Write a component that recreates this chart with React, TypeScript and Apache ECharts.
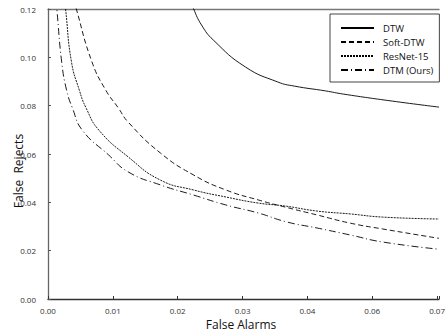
import React, { useEffect, useRef } from "react";
import * as echarts from "echarts";

const xTickLabels = ["0.00", "0.01", "0.02", "0.03", "0.04", "0.06", "0.07"];
const seriesNames = ["DTW", "Soft-DTW", "ResNet-15", "DTM (Ours)"];

const dtw: [number, number][] = [
  [0.0220, 0.1237], [0.02246, 0.12], [0.02367, 0.1134], [0.02548, 0.1072],
  [0.03045, 0.096], [0.03543, 0.0898], [0.03799, 0.0881], [0.04282, 0.0861],
  [0.04553, 0.0848], [0.05307, 0.0819], [0.0603, 0.0794],
];
const softDtw: [number, number][] = [
  [0.00407, 0.1237], [0.00437, 0.12], [0.00678, 0.0981], [0.00889, 0.0865],
  [0.01086, 0.079], [0.01236, 0.0732], [0.01734, 0.0604], [0.02246, 0.0513],
  [0.02744, 0.0451], [0.03241, 0.041], [0.03648, 0.0381], [0.04146, 0.0348],
  [0.04659, 0.0314], [0.05156, 0.029], [0.0603, 0.0251],
];
const resNet: [number, number][] = [
  [0.00256, 0.1237], [0.00271, 0.12], [0.00362, 0.0981], [0.00482, 0.0865],
  [0.00588, 0.079], [0.00784, 0.0699], [0.01236, 0.0588], [0.01734, 0.0492],
  [0.02246, 0.0451], [0.02744, 0.0422], [0.03241, 0.0397], [0.03648, 0.0385],
  [0.04146, 0.0364], [0.04659, 0.0352], [0.05156, 0.0339], [0.0603, 0.0331],
];
const dtm: [number, number][] = [
  [0.00121, 0.1237], [0.00136, 0.12], [0.00211, 0.0981], [0.00286, 0.0865],
  [0.00377, 0.079], [0.00528, 0.0699], [0.00935, 0.0596], [0.01236, 0.0526],
  [0.01734, 0.0472], [0.02246, 0.043], [0.02744, 0.0389], [0.03241, 0.0356],
  [0.03679, 0.0319], [0.04146, 0.0294], [0.04659, 0.0265], [0.05156, 0.0236],
  [0.0603, 0.0206],
];

const FONT = "'Open Sans', 'Noto Sans', sans-serif";

export default function App() {
  const ref = useRef<HTMLDivElement>(null);
  useEffect(() => {
    document.body.style.margin = "0";
    if (!ref.current) return;
    const chart = echarts.init(ref.current, null, { renderer: "svg" });
    const dashes: any[] = ["solid", [5, 3], [2, 1], [7, 3, 1, 3]];
    const datas = [dtw, softDtw, resNet, dtm];
    chart.setOption({
      animation: false,
      backgroundColor: "#fff",
      grid: { left: 48, right: 0, top: 9, bottom: 35 },
      legend: {
        orient: "vertical",
        left: 330,
        top: 14,
        padding: [9, 6, 7, 10],
        itemGap: 4,
        itemWidth: 33,
        itemHeight: 10,
        borderColor: "#444",
        borderWidth: 1,
        backgroundColor: "#fff",
        itemStyle: { opacity: 0 },
        textStyle: { fontFamily: FONT, fontSize: 9.5, color: "#111", padding: [0, 0, 0, 4] },
        data: seriesNames,
      },
      xAxis: [
        {
          type: "value",
          min: 0,
          max: 0.0603,
          interval: 0.01,
          splitLine: { show: false },
          axisLine: { lineStyle: { color: "#333", width: 1.3 } },
          axisTick: { inside: true, length: 3, lineStyle: { color: "#333" } },
          axisLabel: {
            margin: 7,
            fontFamily: FONT,
            fontSize: 8,
            color: "#333",
            formatter: (v: number) => {
              const i = Math.round(v / 0.01);
              if (Math.abs(v / 0.01 - i) > 1e-6) return "";
              return xTickLabels[i] ?? "";
            },
          },
        },
        {
          type: "value",
          position: "top",
          min: 0,
          max: 0.0603,
          splitLine: { show: false },
          axisLine: { show: true, lineStyle: { color: "#777", width: 1.3 } },
          axisTick: { show: false },
          axisLabel: { show: false },
        },
      ],
      yAxis: {
        type: "value",
        min: 0,
        max: 0.12,
        interval: 0.02,
        splitLine: { show: false },
        axisLine: { show: true, lineStyle: { color: "#666", width: 1.3 } },
        axisTick: { show: true, inside: true, length: 3, lineStyle: { color: "#555" } },
        axisLabel: {
          margin: 12,
          fontFamily: FONT,
          fontSize: 8,
          color: "#333",
          formatter: (v: number) => v.toFixed(2),
        },
      },
      series: seriesNames.map((name, i) => ({
        name,
        type: "line",
        data: datas[i],
        symbol: "none",
        smooth: 0.5,
        clip: true,
        color: "#000",
        lineStyle: { color: "#000", width: 0.9, type: dashes[i] },
      })),
      graphic: [
        {
          type: "text",
          x: 241,
          y: 324,
          style: {
            text: "False Alarms",
            fontFamily: FONT,
            fontSize: 12,
            fill: "#111",
            align: "center",
            verticalAlign: "middle",
          },
        },
        {
          type: "text",
          x: 18,
          y: 171,
          rotation: Math.PI / 2,
          style: {
            text: "False  Rejects",
            fontFamily: FONT,
            fontSize: 12,
            fill: "#111",
            align: "center",
            verticalAlign: "middle",
          },
        },
      ],
    });
    return () => chart.dispose();
  }, []);
  return <div ref={ref} style={{ width: 448, height: 334 }} />;
}
